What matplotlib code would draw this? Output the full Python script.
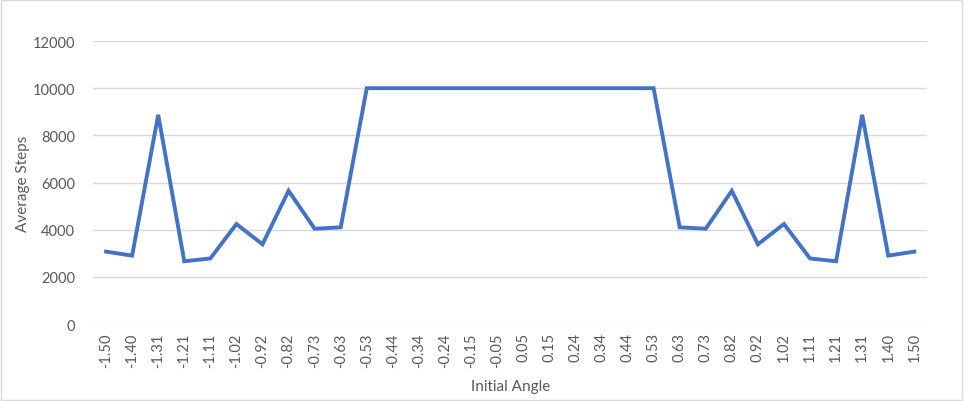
import matplotlib
matplotlib.use("Agg")
import matplotlib.pyplot as plt
from matplotlib.patches import Rectangle

plt.rcParams['font.family'] = ['Lato', 'DejaVu Sans']

# data
angles = ['-1.50', '-1.40', '-1.31', '-1.21', '-1.11', '-1.02', '-0.92', '-0.82',
          '-0.73', '-0.63', '-0.53', '-0.44', '-0.34', '-0.24', '-0.15', '-0.05',
          '0.05', '0.15', '0.24', '0.34', '0.44', '0.53', '0.63', '0.73',
          '0.82', '0.92', '1.02', '1.11', '1.21', '1.31', '1.40', '1.50']
steps = [3070, 2900, 8870, 2660, 2780, 4240, 3380, 5650,
         4040, 4100, 10000, 10000, 10000, 10000, 10000, 10000,
         10000, 10000, 10000, 10000, 10000, 10000, 4100, 4040,
         5650, 3380, 4240, 2780, 2660, 8870, 2900, 3070]
y_ticks = [0, 2000, 4000, 6000, 8000, 10000, 12000]

fig = plt.figure(figsize=(9.64, 4.02), dpi=100)
ax = fig.add_axes([0.0965, 0.1915, 0.8655, 0.704])

x = range(len(angles))
ax.plot(x, steps, color='#4472C4', linewidth=2.8, solid_joinstyle='miter')

ax.set_xlim(-0.5, len(angles) - 0.5)
ax.set_ylim(0, 12000)
ax.set_yticks(y_ticks)
ax.set_yticklabels([str(v) for v in y_ticks])
ax.set_xticks(list(x))
ax.set_xticklabels(angles, rotation=90)
ax.tick_params(axis='both', length=0, labelsize=10.5, labelcolor='#595959')
ax.tick_params(axis='y', pad=13)
ax.tick_params(axis='x', pad=6)

ax.grid(axis='y', color='#D9D9D9', linewidth=1)
ax.set_axisbelow(True)
for s in ax.spines.values():
    s.set_visible(False)

ax.set_xlabel('Initial Angle', fontsize=11, color='#595959', labelpad=9)
ax.set_ylabel('Average Steps', fontsize=11, color='#595959', labelpad=2)

# light frame round the chart
fig.patches.append(Rectangle((0.001, 0.002), 0.997, 0.995, transform=fig.transFigure,
                             fill=False, edgecolor='#D9D9D9', linewidth=1))

fig.savefig('out.png', dpi=100)
